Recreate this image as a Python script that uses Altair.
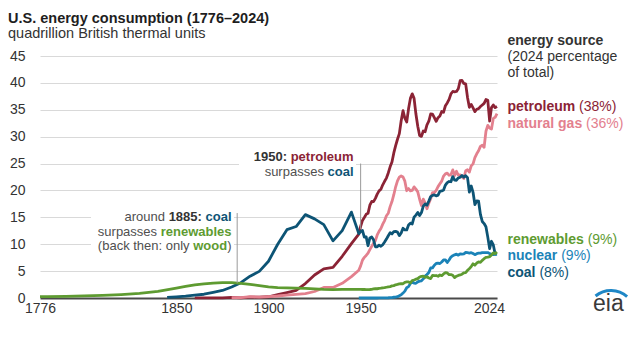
import altair as alt
import pandas as pd

# ---------------- data (quadrillion Btu) ----------------
ANNUAL = list(range(1949, 2025))

pet_years = [1860, 1865, 1870, 1875, 1880, 1885, 1890, 1895, 1900, 1905, 1910, 1915,
             1920, 1925, 1930, 1935, 1940, 1945] + ANNUAL
pet_vals = [0.01, 0.02, 0.02, 0.02, 0.1, 0.04, 0.16, 0.17, 0.23, 0.61, 1.01, 1.42,
            2.68, 4.28, 5.43, 5.68, 7.76, 10.11,
            11.88, 13.32, 14.43, 14.96, 15.56, 15.74, 17.25, 17.94, 17.93, 18.53,
            19.32, 19.92, 20.22, 21.05, 21.70, 22.30, 23.25, 24.40, 25.28, 26.98,
            28.34, 29.52, 30.56, 32.95, 34.84, 33.45, 32.73, 35.17, 37.12, 37.96,
            37.12, 34.20, 31.93, 30.23, 30.05, 31.05, 30.92, 32.20, 32.87, 34.22,
            34.21, 33.55, 32.85, 33.52, 33.84, 34.67, 34.55, 35.75, 36.27, 36.93,
            37.96, 38.40, 38.33, 38.40, 38.92, 40.40, 40.45, 39.90, 39.82, 37.30,
            35.45, 36.00, 35.35, 34.65, 35.10, 35.20, 35.60, 35.90, 36.20, 36.90,
            36.75, 32.90, 35.40, 35.90, 35.40, 35.60]

gas_years = [1880, 1885, 1890, 1895, 1900, 1905, 1910, 1915, 1920, 1925, 1930, 1935,
             1940, 1945] + ANNUAL
gas_vals = [0.05, 0.08, 0.26, 0.15, 0.25, 0.37, 0.54, 0.67, 0.83, 1.21, 1.97, 1.97,
            2.73, 3.97,
            5.15, 5.97, 7.05, 7.55, 7.91, 8.33, 9.00, 9.61, 10.19, 10.66,
            11.72, 12.39, 12.93, 13.73, 14.40, 15.29, 15.77, 16.99, 17.94, 19.21,
            20.68, 21.79, 22.47, 22.70, 22.51, 21.73, 19.95, 20.35, 19.93, 20.00,
            20.67, 20.24, 19.74, 18.36, 17.20, 18.38, 17.70, 16.59, 17.64, 18.45,
            19.60, 19.60, 20.03, 20.71, 21.23, 21.73, 22.67, 23.08, 23.22, 22.83,
            22.91, 23.82, 22.77, 23.56, 22.83, 22.91, 22.56, 22.22, 23.66, 23.84,
            23.42, 24.57, 24.95, 26.09, 26.81, 27.38, 28.19, 28.40, 28.03, 31.00,
            32.10, 31.60, 31.40, 33.40, 33.60, 34.30]

coal_years = [1845, 1850, 1855, 1860, 1865, 1870, 1875, 1880, 1885, 1890, 1895, 1900,
              1905, 1910, 1915, 1920, 1925, 1930, 1935, 1940, 1945] + ANNUAL
coal_vals = [0.1, 0.22, 0.35, 0.52, 0.7, 1.05, 1.4, 2.05, 2.84, 4.06, 4.95, 6.84,
             10.0, 12.71, 13.29, 15.5, 14.71, 13.64, 10.63, 12.54, 15.97,
             11.98, 12.35, 12.55, 11.31, 11.37, 9.72, 11.17, 11.35, 10.82, 9.53,
             9.52, 9.84, 9.62, 9.91, 10.41, 10.96, 11.58, 12.14, 11.91, 12.33,
             12.38, 12.26, 11.60, 12.08, 12.97, 12.66, 12.66, 13.58, 13.92, 13.77,
             15.04, 15.42, 15.91, 15.32, 15.89, 17.07, 17.48, 17.26, 18.01, 18.85,
             19.07, 19.17, 18.99, 19.12, 19.84, 19.91, 20.09, 21.00, 21.45, 21.66,
             21.62, 22.58, 21.91, 21.90, 22.32, 22.47, 22.80, 22.45, 22.75, 22.39,
             19.69, 20.83, 19.66, 17.38, 18.04, 17.99, 15.55, 14.23, 13.84, 13.25,
             11.32, 9.18, 10.55, 9.87, 8.17, 8.20]

nuc_years = ANNUAL
nuc_vals = [0, 0, 0, 0, 0, 0, 0, 0, 0, 0.002,
            0.002, 0.006, 0.02, 0.026, 0.038, 0.04, 0.043, 0.064, 0.088, 0.142,
            0.154, 0.239, 0.413, 0.584, 0.91, 1.272, 1.9, 2.111, 2.702, 3.024,
            2.776, 2.739, 3.008, 3.131, 3.203, 3.553, 4.076, 4.38, 4.754, 5.587,
            5.602, 6.104, 6.422, 6.479, 6.41, 6.694, 7.075, 7.087, 6.597, 7.068,
            7.61, 7.862, 8.029, 8.145, 7.96, 8.222, 8.161, 8.215, 8.459, 8.426,
            8.355, 8.434, 8.269, 8.062, 8.244, 8.338, 8.337, 8.427, 8.419, 8.438,
            8.452, 8.251, 8.131, 8.06, 8.10, 8.15]

ren_years = [1776, 1780, 1790, 1800, 1810, 1820, 1830, 1840, 1850, 1855, 1860, 1865,
             1870, 1875, 1880, 1885, 1890, 1895, 1900, 1905, 1910, 1915, 1920, 1925,
             1930, 1935, 1940, 1945] + ANNUAL
ren_vals = [0.25, 0.27, 0.32, 0.38, 0.48, 0.64, 0.86, 1.22, 1.85, 2.15, 2.45, 2.62,
            2.78, 2.85, 2.85, 2.72, 2.52, 2.3, 2.05, 1.92, 1.9, 1.85, 1.8, 1.7,
            1.6, 1.55, 1.6, 1.6,
            1.60, 1.60, 1.58, 1.58, 1.55, 1.55, 1.58, 1.62, 1.68, 1.72,
            1.72, 1.78, 1.82, 1.90, 1.92, 2.00, 2.08, 2.12, 2.25, 2.30,
            2.45, 2.52, 2.62, 2.68, 2.65, 2.92, 2.98, 3.00, 2.80, 3.25,
            3.35, 3.50, 3.60, 3.90, 4.02, 4.05, 3.85, 3.95, 3.72, 3.62,
            4.20, 4.15, 4.18, 4.05, 4.28, 4.15, 4.48, 4.70, 4.65, 4.35,
            4.35, 4.22, 3.80, 4.05, 4.20, 4.28, 4.42, 4.68, 4.72, 5.15,
            5.45, 5.85, 6.35, 6.10, 6.50, 6.70, 6.62, 7.00, 7.30, 7.55,
            7.60, 7.70, 8.00, 8.40, 8.25, 8.55]

sources = ["petroleum", "natural gas", "coal", "nuclear", "renewables"]
shares = {"petroleum": "(38%)", "natural gas": "(36%)", "renewables": "(9%)",
          "nuclear": "(9%)", "coal": "(8%)"}
x_ticks = [1776, 1850, 1900, 1950, 2024]
y_ticks = [0, 5, 10, 15, 20, 25, 30, 35, 40, 45]

# ---------------- styling ----------------
FONT = "Liberation Sans"
COL = {"petroleum": "#8b2335", "natural gas": "#e3808e", "coal": "#0d5475",
       "nuclear": "#1b83b8", "renewables": "#5e9b31"}
DARK = "#333333"
GRAY = "#4f4f4f"
PL, PT = 40, 56          # plot origin in page pixels
W, H = 457, 242          # plot size

series_data = {"petroleum": (pet_years, pet_vals), "natural gas": (gas_years, gas_vals),
               "coal": (coal_years, coal_vals), "nuclear": (nuc_years, nuc_vals),
               "renewables": (ren_years, ren_vals)}
rows = []
for s in sources:
    yrs, vals = series_data[s]
    assert len(yrs) == len(vals), s
    for yr, v in zip(yrs, vals):
        rows.append({"source": s, "year": yr, "value": v})
df = pd.DataFrame(rows)

x_scale = alt.Scale(domain=[1776, 2024], nice=False, zero=False)
y_scale = alt.Scale(domain=[0, 45], nice=False, zero=True)
x_axis = alt.Axis(values=x_ticks, format="d", title=None, grid=False, ticks=False,
                  domainColor="#4a4a4a", domainWidth=2, labelFont=FONT, labelFontSize=14,
                  labelColor=DARK, labelPadding=3, labelFlush=False,
                  labelOffset={"condition": {"test": "datum.value === 2024", "value": -8},
                               "value": 0})
y_axis = alt.Axis(values=y_ticks, title=None, grid=True, gridColor="#d9d9d9", gridWidth=1,
                  domain=False, ticks=False, labelFont=FONT, labelFontSize=14,
                  labelColor=DARK, labelPadding=15)

X = alt.X("year:Q", scale=x_scale, axis=x_axis)
Y = alt.Y("value:Q", scale=y_scale, axis=y_axis)

layers = []


def box(x1, x2, y1, y2):
    return alt.Chart(pd.DataFrame({"k": [0]})).mark_rect(color="white").encode(
        x=alt.value(x1 - PL), x2=alt.value(x2 - PL), y=alt.value(y1 - PT), y2=alt.value(y2 - PT))


lines = alt.Chart(df).mark_line(strokeWidth=2.8, strokeJoin="round").encode(
    x=X, y=Y,
    color=alt.Color("source:N", scale=alt.Scale(domain=sources, range=[COL[s] for s in sources]),
                    legend=None),
)
layers.append(lines)
# white boxes behind the annotations (hide gridlines)
layers.append(box(91, 234, 207, 255))
layers.append(box(239, 356, 147, 180))

# annotation leader lines
ann = pd.DataFrame({"year": [1950, 1883], "value": [25.0, 15.8], "value2": [12.8, 2.75]})
layers.append(alt.Chart(ann).mark_rule(color="#9a9a9a", strokeWidth=1).encode(
    x=X, y=Y, y2="value2:Q"))

# ---------------- text ----------------
RW = {" ": 278, "(": 333, ")": 333, ":": 278, "%": 889, "a": 556, "b": 556, "c": 500,
      "d": 556, "e": 556, "f": 278, "g": 556, "h": 556, "i": 222, "k": 500, "l": 222,
      "m": 833, "n": 556, "o": 556, "p": 556, "q": 556, "r": 333, "s": 500, "t": 278,
      "u": 556, "v": 500, "w": 722, "x": 500, "y": 500, "z": 500}
BW = {" ": 278, "(": 333, ")": 333, ":": 333, "%": 889, "a": 556, "b": 611, "c": 556,
      "d": 611, "e": 556, "f": 333, "g": 611, "h": 611, "i": 278, "k": 556, "l": 278,
      "m": 889, "n": 611, "o": 611, "p": 611, "q": 611, "r": 389, "s": 556, "t": 333,
      "u": 611, "v": 556, "w": 778, "x": 556, "y": 556, "z": 500}


def tw(s, bold, size):
    t = BW if bold else RW
    return sum(t.get(ch, 556) for ch in s) * size / 1000.0


texts = []


def add(x, y, s, bold, color, size):
    texts.append({"x": x, "y": y, "text": s, "bold": bold, "color": color, "size": size})


def line_left(x, base, pieces, size):
    for s, bold, col in pieces:
        stripped = s.lstrip(" ")
        x += tw(s, bold, size) - tw(stripped, bold, size)
        add(x, base, stripped, bold, col, size)
        x += tw(stripped, bold, size)


def line_right(right, base, pieces, size):
    total = sum(tw(s, b, size) for s, b, c in pieces)
    line_left(right - total, base, pieces, size)


# title
add(8, 22.5, "U.S. energy consumption (1776\u20132024)", True, "#1e1e1e", 14.5)
add(8, 37.5, "quadrillion British thermal units", False, DARK, 14.5)

# legend header
add(507.5, 44.5, "energy source", True, DARK, 14)
add(507.5, 61, "(2024 percentage", False, DARK, 14)
add(507.5, 77, "of total)", False, DARK, 14)

# end labels
label_y = {"petroleum": 111, "natural gas": 127.5, "renewables": 243.5,
           "nuclear": 260, "coal": 276.5}
for s in ["petroleum", "natural gas", "renewables", "nuclear", "coal"]:
    line_left(507.5, label_y[s], [(s, True, COL[s]), (" " + shares[s], False, COL[s])], 14)

# annotation 1950
line_right(353.5, 161, [("1950:", True, DARK), (" petroleum", True, COL["petroleum"])], 13)
line_right(353.5, 176, [("surpasses", False, GRAY), (" coal", True, COL["coal"])], 13)
# annotation 1885
line_right(231.5, 221, [("around", False, GRAY), (" 1885:", True, DARK),
                        (" coal", True, COL["coal"])], 13)
line_right(231.5, 235.5, [("surpasses", False, GRAY),
                          (" renewables", True, COL["renewables"])], 13)
line_right(231.5, 250, [("(back then: only", False, GRAY), (" wood", True, COL["renewables"]),
                        (")", False, GRAY)], 13)

# logo text
add(593, 311, "eia", False, "#3a3a3a", 23)

for t in texts:
    layers.append(
        alt.Chart(pd.DataFrame({"t": [t["text"]]})).mark_text(
            align="left", baseline="alphabetic", font=FONT, fontSize=t["size"],
            fontWeight="bold" if t["bold"] else "normal", color=t["color"]
        ).encode(text="t:N", x=alt.value(t["x"] - PL), y=alt.value(t["y"] - PT))
    )

# logo swoosh
layers.append(
    alt.Chart(pd.DataFrame({"k": [0]})).mark_arc(
        theta=5.6, theta2=7.0, radius=26, radius2=23, color="#1f87c6"
    ).encode(x=alt.value(611 - PL), y=alt.value(315 - PT))
)

chart = alt.layer(*layers).properties(
    width=W, height=H,
    autosize=alt.AutoSizeParams(type="none"),
    padding={"left": PL, "top": PT, "right": 639 - PL - W, "bottom": 342 - PT - H},
    background="white",
).configure_view(stroke=None)

chart.save("out.html", embed_options={"renderer": "svg", "actions": False})
